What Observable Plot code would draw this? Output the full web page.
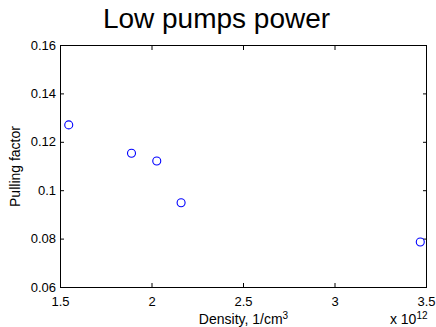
<!DOCTYPE html>
<html><head><meta charset="utf-8">
<script src="https://cdn.jsdelivr.net/npm/d3@7"></script>
<script src="https://cdn.jsdelivr.net/npm/@observablehq/plot@0.6"></script>
<style>
body{margin:0;background:#fff;}
#title{width:433px;padding-right:3px;height:38px;line-height:38px;text-align:center;font-family:"Liberation Sans",Arial,sans-serif;font-size:28px;color:#000;white-space:nowrap;}
#chart svg{display:block;}
</style></head><body>
<div id="title"></div>
<div id="chart"></div>
<script>
const title = "Low pumps power";
const density = [1.545, 1.888, 2.026, 2.159, 3.466];   // x 10^12 1/cm^3
const pulling = [0.1272, 0.1155, 0.1123, 0.0950, 0.0788];
const xTicks = [1.5, 2, 2.5, 3, 3.5];
const xTickLabels = ["1.5", "2", "2.5", "3", "3.5"];
const yTicks = [0.06, 0.08, 0.1, 0.12, 0.14, 0.16];
const yTickLabels = ["0.06", "0.08", "0.1", "0.12", "0.14", "0.16"];
const xLabelBase = "Density, 1/cm";
const xLabelSup = "3";
const xExpBase = "x 10";
const xExpSup = "12";
const yLabel = "Pulling factor";

document.getElementById("title").textContent = title;

const data = density.map((d, i) => ({density: d, pulling: pulling[i]}));
const xFmt = d => xTickLabels[xTicks.indexOf(d)];
const yFmt = d => yTickLabels[yTicks.indexOf(d)];
const blank = () => "";

const chart = Plot.plot({
  width: 436,
  height: 289,
  marginTop: 7,
  marginBottom: 40,
  marginLeft: 60,
  marginRight: 10,
  style: {fontFamily: "'Liberation Sans', Arial, sans-serif", fontSize: "13px", color: "#000", background: "#fff"},
  x: {domain: [1.5, 3.5]},
  y: {domain: [0.06, 0.16]},
  marks: [
    Plot.frame({stroke: "#000", strokeWidth: 1}),
    Plot.axisX(xTicks, {anchor: "bottom", tickSize: -4, tickPadding: 13, tickFormat: xFmt, label: null, fontSize: 13}),
    Plot.axisX(xTicks, {anchor: "top", tickSize: -4, tickFormat: blank, label: null}),
    Plot.axisY(yTicks, {anchor: "left", tickSize: -4, tickPadding: 8.5, tickFormat: yFmt, label: null, fontSize: 13}),
    Plot.axisY(yTicks, {anchor: "right", tickSize: -4, tickFormat: blank, label: null}),
    Plot.dot(data, {x: "density", y: "pulling", r: 4, stroke: "#0000ff", fill: "none", strokeWidth: 1.1}),
    Plot.text([xLabelBase], {frameAnchor: "bottom", lineAnchor: "middle", textAnchor: "middle", dy: 32.5, fontSize: 14}),
    Plot.text([xExpBase], {frameAnchor: "bottom-right", lineAnchor: "middle", textAnchor: "end", dx: 1, dy: 32.5, fontSize: 14}),
    Plot.text([yLabel], {frameAnchor: "left", lineAnchor: "middle", textAnchor: "middle", rotate: -90, dx: -45, fontSize: 14})
  ]
});
document.getElementById("chart").appendChild(chart);

// add superscripts as real tspans
function addSup(base, sup) {
  chart.querySelectorAll("text").forEach(t => {
    if (t.textContent === base) {
      const ts = document.createElementNS("http://www.w3.org/2000/svg", "tspan");
      ts.setAttribute("font-size", "10");
      ts.setAttribute("dy", "-5");
      ts.textContent = sup;
      t.appendChild(ts);
    }
  });
}
addSup(xLabelBase, xLabelSup);
addSup(xExpBase, xExpSup);
</script>
</body></html>
